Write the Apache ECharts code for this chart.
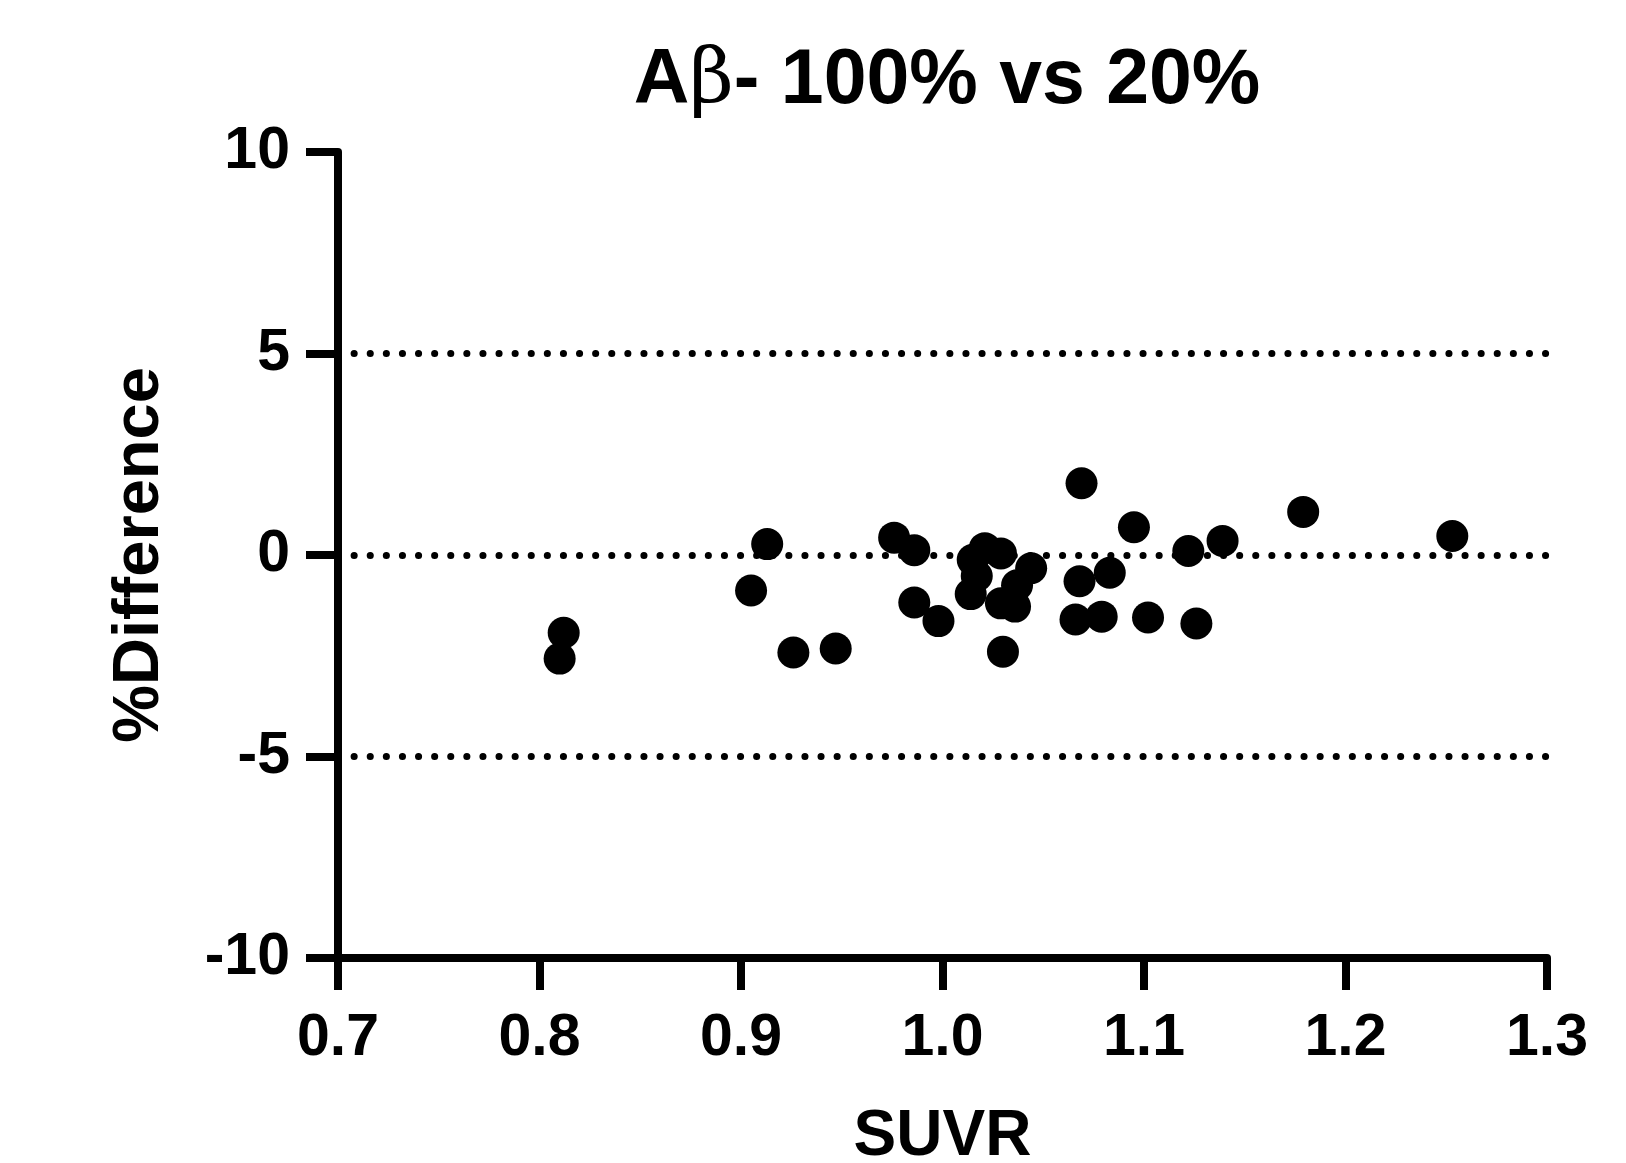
<!DOCTYPE html>
<html>
<head>
<meta charset="utf-8">
<script src="https://cdn.jsdelivr.net/npm/echarts@6/dist/echarts.min.js"></script>
<style>
html,body{margin:0;padding:0;background:#fff;}
#chart{width:1626px;height:1163px;}
</style>
</head>
<body>
<div id="chart"></div>
<script>
// SUVR (x) and %Difference (y)
var suvr = [0.812, 0.810, 0.913, 0.905, 0.926, 0.947, 0.976, 0.986, 0.986, 0.998,
            1.015, 1.021, 1.029, 1.017, 1.014, 1.029, 1.036, 1.037, 1.044, 1.030,
            1.069, 1.095, 1.068, 1.083, 1.066, 1.079, 1.102, 1.126, 1.122, 1.139,
            1.179, 1.253];
var pctDiff = [-1.93, -2.57, 0.27, -0.88, -2.42, -2.32, 0.43, 0.12, -1.18, -1.64,
               -0.12, 0.17, 0.04, -0.52, -0.97, -1.20, -1.28, -0.75, -0.33, -2.40,
               1.78, 0.69, -0.65, -0.44, -1.60, -1.53, -1.55, -1.70, 0.10, 0.35,
               1.07, 0.47];
var refLines = [5, 0, -5];
var xTicks = {min: 0.7, max: 1.3, interval: 0.1};
var yTicks = {min: -10, max: 10, interval: 5};

var points = suvr.map(function (x, i) { return [x, pctDiff[i]]; });

var chart = echarts.init(document.getElementById('chart'), null, {renderer: 'canvas'});
var font = 'Liberation Sans, Arial, Helvetica, sans-serif';
chart.setOption({
  animation: false,
  backgroundColor: '#ffffff',
  title: {
    text: '{a|A}{b|β}{a|- 100% vs 20%}',
    left: 942,
    textAlign: 'center',
    top: 38,
    textStyle: {
      rich: {
        a: {fontFamily: font, fontWeight: 'bold', fontSize: 77, color: '#000'},
        b: {fontFamily: 'DejaVu Serif, Liberation Serif, serif', fontWeight: 'normal', fontSize: 77, color: '#000'}
      }
    }
  },
  grid: {left: 338, right: 79, top: 152, bottom: 205, containLabel: false, outerBoundsMode: 'none'},
  xAxis: {
    type: 'value',
    min: xTicks.min, max: xTicks.max, interval: xTicks.interval,
    name: 'SUVR',
    nameLocation: 'middle',
    nameGap: 147,
    nameTextStyle: {fontFamily: font, fontWeight: 'bold', fontSize: 64, color: '#000'},
    axisLine: {show: true, onZero: false, lineStyle: {color: '#000', width: 8}},
    axisTick: {show: true, length: 32, lineStyle: {color: '#000', width: 8}},
    axisLabel: {
      fontFamily: font, fontWeight: 'bold', fontSize: 59, color: '#000', margin: 51,
      formatter: function (v) { return v.toFixed(1); }
    },
    splitLine: {show: false}
  },
  yAxis: {
    type: 'value',
    min: yTicks.min, max: yTicks.max, interval: yTicks.interval,
    name: '%Difference',
    nameLocation: 'middle',
    nameGap: 165,
    nameRotate: 90,
    nameTextStyle: {fontFamily: font, fontWeight: 'bold', fontSize: 65, color: '#000'},
    axisLine: {show: true, onZero: false, lineStyle: {color: '#000', width: 8}},
    axisTick: {show: true, length: 32, lineStyle: {color: '#000', width: 8}},
    axisLabel: {fontFamily: font, fontWeight: 'bold', fontSize: 59, color: '#000', margin: 48},
    splitLine: {show: false}
  },
  series: [{
    type: 'scatter',
    data: points,
    symbol: 'circle',
    symbolSize: 32,
    itemStyle: {color: '#000', opacity: 1},
    z: 3,
    markLine: {
      silent: true,
      symbol: ['none', 'none'],
      label: {show: false},
      lineStyle: {color: '#000', width: 7, type: [0.1, 16], cap: 'round', opacity: 1},
      data: refLines.map(function (v) { return {yAxis: v}; }),
      z: 1
    }
  }]
});
</script>
</body>
</html>
